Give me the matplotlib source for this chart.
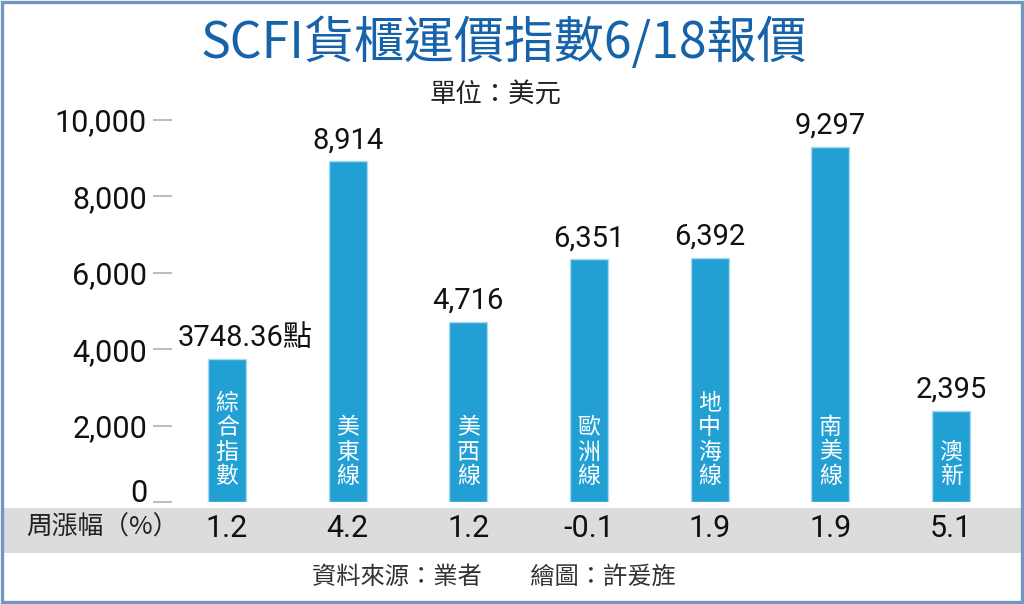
import matplotlib
matplotlib.use('Agg')
import matplotlib.pyplot as plt
from matplotlib.patches import Rectangle
from matplotlib.transforms import blended_transform_factory

plt.rcParams['font.family'] = ['Roboto', 'Noto Sans CJK TC', 'DejaVu Sans']

# data
routes = ['綜合指數', '美東線', '美西線', '歐洲線', '地中海線', '南美線', '澳新']
prices = [3748.36, 8914, 4716, 6351, 6392, 9297, 2395]
weekly_change = [1.2, 4.2, 1.2, -0.1, 1.9, 1.9, 5.1]
y_ticks = [0, 2000, 4000, 6000, 8000, 10000]

bar_color = '#22a0d4'
cjk = ['Noto Sans CJK TC', 'DejaVu Sans']

fig = plt.figure(figsize=(10.24, 6.04), dpi=100)
fig.patch.set_facecolor('white')

# grey band for weekly change row (behind the axes)
fig.patches.append(Rectangle((0.003, 0.0844), 0.994, 0.0745, transform=fig.transFigure,
                             facecolor='#dcdcdc', edgecolor='none', zorder=-1))
# outer frame
fig.patches.append(Rectangle((0.0015, 0.0025), 0.997, 0.995, transform=fig.transFigure,
                             fill=False, edgecolor='#7196bf', linewidth=2.4, zorder=5))

ax = fig.add_axes([0.168, 0.1689, 0.8196, 0.6324])
ax.patch.set_alpha(0)
x = list(range(len(routes)))
ax.bar(x, prices, width=0.315, color=bar_color, edgecolor='#a9d9ef', linewidth=1)
ax.set_xlim(-0.456, 6.5)
ax.set_ylim(0, 10000)

for s in ax.spines.values():
    s.set_visible(False)
ax.set_xticks([])
ax.set_yticks(y_ticks)
ax.set_yticklabels([f'{t:,}' for t in y_ticks])
ax.tick_params(axis='y', direction='out', length=14, width=1.5, color='#bdbdbd',
               pad=4, labelsize=22, labelcolor='#111111')
ax.get_yticklabels()[0].set_verticalalignment('baseline')

# value labels above bars
for i, v in enumerate(prices):
    if i == 0:
        label, dx = f'{v:.2f}點', 13
    else:
        label, dx = f'{v:,.0f}', 0
    ax.annotate(label, (i, v), xytext=(dx, 5), textcoords='offset points',
                ha='center', va='bottom', fontsize=21, color='#111111')

# vertical route names inside bars
for i, name in enumerate(routes):
    ax.annotate('\n'.join(name), (i, 0), xytext=(0, 10), textcoords='offset points',
                ha='center', va='bottom', fontsize=16.5, color='white',
                family=cjk, linespacing=1.08)

# weekly change row
row = blended_transform_factory(ax.transData, fig.transFigure)
for i, c in enumerate(weekly_change):
    ax.text(i, 0.1258, f'{c}', transform=row, ha='center', va='center',
            fontsize=22, color='#111111', clip_on=False)
fig.text(0.1, 0.1258, '周漲幅（%）', ha='center', va='center', fontsize=18.5,
         color='#222222', family=cjk)

fig.text(0.492, 0.927, 'SCFI貨櫃運價指數6/18報價', ha='center', va='center',
         fontsize=36, fontweight='medium', color='#1763aa', family=cjk)
fig.text(0.484, 0.843, '單位：美元', ha='center', va='center', fontsize=19,
         color='#222222', family=cjk)
fig.text(0.482, 0.043, '資料來源：業者　　繪圖：許爰旌', ha='center', va='center',
         fontsize=17.5, color='#333333', family=cjk)

fig.savefig('out.png', dpi=100)
